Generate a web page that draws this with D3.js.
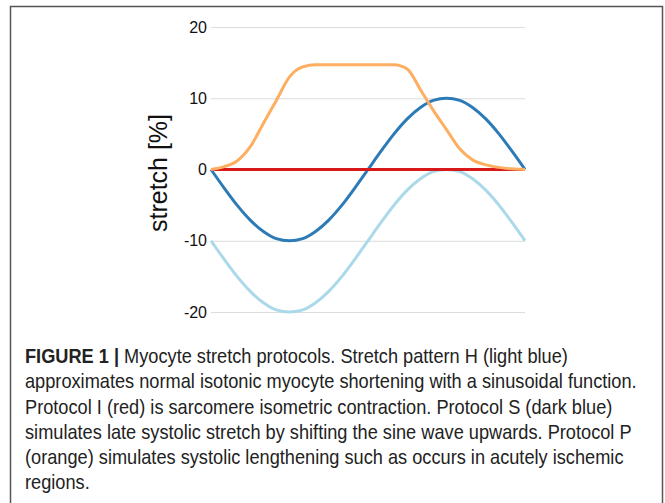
<!DOCTYPE html>
<html>
<head>
<meta charset="utf-8">
<script src="https://cdn.jsdelivr.net/npm/d3@7"></script>
<style>
  body { margin: 0; background: #fff; }
  svg { display: block; }
</style>
</head>
<body>
<svg id="chart"></svg>
<script>
// cycle phase in % (x) and stretch in % for each protocol
const phase = [0, 4.2, 8.3, 12.5, 16.7, 20.8, 25, 29.2, 33.3, 37.5, 41.7, 45.8, 50,
               54.2, 58.3, 62.5, 66.7, 70.8, 75, 79.2, 83.3, 87.5, 91.7, 95.8, 100];
const protocolH = [-10, -12.6, -15, -17.1, -18.7, -19.7, -20, -19.7, -18.7, -17.1, -15, -12.6, -10,
                   -7.4, -5, -2.9, -1.3, -0.3, 0, -0.3, -1.3, -2.9, -5, -7.4, -10];
const protocolI = [0, 0, 0, 0, 0, 0, 0, 0, 0, 0, 0, 0, 0, 0, 0, 0, 0, 0, 0, 0, 0, 0, 0, 0, 0];
const protocolS = [0, -2.6, -5, -7.1, -8.7, -9.7, -10, -9.7, -8.7, -7.1, -5, -2.6, 0,
                   2.6, 5, 7.1, 8.7, 9.7, 10, 9.7, 8.7, 7.1, 5, 2.6, 0];
const protocolP = [0, 0.4, 1.2, 3.2, 6.5, 9.7, 13, 14.4, 14.7, 14.7, 14.7, 14.7, 14.7,
                   14.7, 14.7, 14.1, 11.2, 8.3, 5.6, 2.9, 1.35, 0.65, 0.3, 0.1, 0];
const yTicks = [20, 10, 0, -10, -20];
const yTitle = "stretch [%]";
const captionBold = "FIGURE 1 |";
const captionLines = [
  " Myocyte stretch protocols. Stretch pattern H (light blue)",
  "approximates normal isotonic myocyte shortening with a sinusoidal function.",
  "Protocol I (red) is sarcomere isometric contraction. Protocol S (dark blue)",
  "simulates late systolic stretch by shifting the sine wave upwards. Protocol P",
  "(orange) simulates systolic lengthening such as occurs in acutely ischemic",
  "regions."
];

const width = 665, height = 503;
const svg = d3.select("#chart").attr("width", width).attr("height", height);

// figure frame (open at the bottom)
svg.append("path")
  .attr("d", `M10.5,${height}V6.5H662.5V${height}`)
  .attr("fill", "none")
  .attr("stroke", "#555")
  .attr("stroke-width", 1.5);

const x = d3.scaleLinear().domain([0, 100]).range([211, 525]);
const y = d3.scaleLinear().domain([-20, 20]).range([312, 27]);

// gridlines + tick labels
svg.append("g")
  .attr("transform", `translate(${x(0)},0)`)
  .call(d3.axisLeft(y).tickValues(yTicks).tickFormat(d => String(d))
    .tickSize(-(x(100) - x(0))).tickPadding(4))
  .call(g => g.select(".domain").remove())
  .call(g => g.selectAll(".tick line").attr("stroke", "#dcdcdc").attr("stroke-width", 1))
  .call(g => g.selectAll(".tick text")
    .attr("fill", "#111")
    .attr("font-family", "Liberation Sans, Arial, sans-serif")
    .attr("font-size", 16));

svg.append("text")
  .attr("transform", `translate(167,173) rotate(-90)`)
  .attr("text-anchor", "middle")
  .attr("font-family", "Liberation Sans, Arial, sans-serif")
  .attr("font-size", 25)
  .attr("fill", "#111")
  .text(yTitle);

const series = [
  { values: protocolH, color: "#abd9e9" },
  { values: protocolS, color: "#2c7bb6" },
  { values: protocolI, color: "#d7191c" },
  { values: protocolP, color: "#fdae61" }
];

const line = d3.line()
  .x(d => x(d[0]))
  .y(d => y(d[1]))
  .curve(d3.curveMonotoneX);

svg.append("g")
  .selectAll("path")
  .data(series)
  .join("path")
  .attr("fill", "none")
  .attr("stroke", d => d.color)
  .attr("stroke-width", 3)
  .attr("stroke-linejoin", "round")
  .attr("d", d => line(d3.zip(phase, d.values)));

// caption (narrow face in the original, so squeeze horizontally)
const cap = svg.append("g")
  .attr("transform", "translate(25,0) scale(0.91,1)")
  .attr("font-family", "Liberation Sans, Arial, sans-serif")
  .attr("font-size", 20)
  .attr("fill", "#222");

cap.selectAll("text")
  .data(captionLines)
  .join("text")
  .attr("x", 0)
  .attr("y", (d, i) => 363 + i * 25.3)
  .each(function (d, i) {
    const t = d3.select(this);
    if (i === 0) {
      t.append("tspan").attr("font-weight", "bold").text(captionBold);
    }
    t.append("tspan").text(d);
  });
</script>
</body>
</html>
